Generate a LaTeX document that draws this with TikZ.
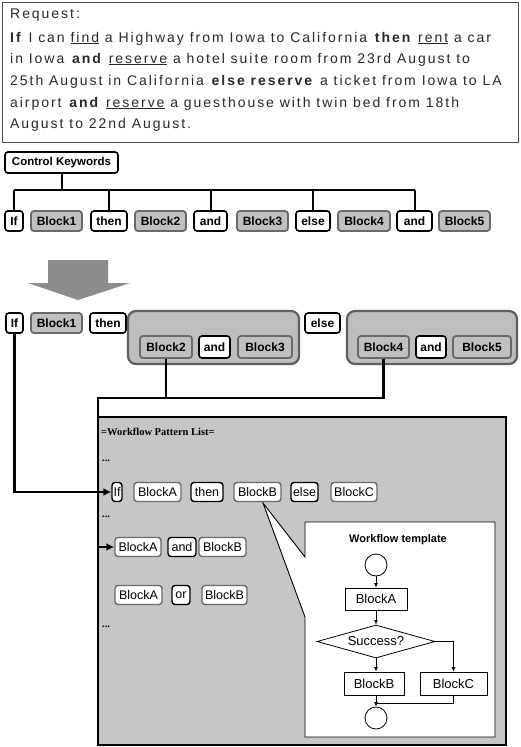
\documentclass[tikz,border=0pt]{standalone}
\usepackage{fontspec}
\setmainfont{Liberation Sans}
\newfontfamily\reqfont[LetterSpace=14]{Liberation Sans}
\newfontfamily\titlefont{Liberation Serif}
\usetikzlibrary{shapes.geometric,arrows.meta}
\definecolor{patbg}{RGB}{198,198,198}
\definecolor{blkfill}{RGB}{192,192,192}
\definecolor{blkedge}{RGB}{105,105,105}
\definecolor{grpfill}{RGB}{190,190,190}
\definecolor{grpedge}{RGB}{95,95,95}
\definecolor{bigarrow}{RGB}{140,140,140}
\definecolor{txt}{RGB}{40,40,40}
\tikzset{
  bw/.style={minimum width=#1pt},
  kw/.style={draw=black,line width=1.6pt,fill=white,rounded corners=3pt,inner sep=0pt,minimum height=20pt,font=\fontsize{12}{13}\selectfont\bfseries},
  blk/.style={draw=blkedge,line width=1.8pt,fill=blkfill,rounded corners=3pt,inner sep=0pt,minimum height=20pt,font=\fontsize{12}{13}\selectfont\bfseries},
  grp/.style={draw=grpedge,line width=2.2pt,fill=grpfill,rounded corners=8pt,inner sep=0pt},
  pkw/.style={draw=black,line width=1.4pt,fill=white,rounded corners=3pt,inner sep=0pt,minimum height=19pt,font=\fontsize{12.5}{13}\selectfont},
  pblk/.style={draw=blkedge,line width=1.4pt,fill=white,rounded corners=3pt,inner sep=0pt,minimum height=19pt,font=\fontsize{12.5}{13}\selectfont},
  conn/.style={line width=2.2pt,black},
  carr/.style={conn,-{Latex[length=8pt,width=8pt]}},
  tree/.style={line width=2pt,black},
  tline/.style={line width=0.8pt,black},
  tarr/.style={tline,-{Latex[length=4.5pt,width=4pt]}},
  tbox/.style={draw=black,line width=0.8pt,fill=white,inner sep=0pt,font=\fontsize{13}{14}\selectfont},
  reqline/.style={anchor=base west,inner sep=0pt,text=txt,font=\reqfont\fontsize{14}{16}\selectfont},
  dots/.style={anchor=west,inner sep=0pt,font=\titlefont\bfseries\fontsize{10.5}{11}\selectfont},
}
\begin{document}
\begin{tikzpicture}[x=1pt,y=-1pt]
\useasboundingbox (0,0) rectangle (520,747);
\fill[white] (0,0) rectangle (520,747);

% request box
\draw[line width=1pt,draw=black!70] (2,2) rectangle (518,142);
\node[reqline] (l0) at (10,18) {Request:};
\node[reqline] (l1) at (10,42) {\textbf{If} I can \underline{find} a Highway from Iowa to California \textbf{then} \underline{rent} a car};
\node[reqline] (l2) at (10,63) {in Iowa \textbf{and} \underline{reserve} a hotel suite room from 23rd August to};
\node[reqline] (l3) at (10,85) {25th August in California \textbf{else reserve} a ticket from Iowa to LA};
\node[reqline] (l4) at (10,107) {airport \textbf{and} \underline{reserve} a guesthouse with twin bed from 18th};
\node[reqline] (l5) at (10,128) {August to 22nd August.};

% control keywords tree
\node[kw,bw=113,minimum height=21pt,font=\fontsize{11.5}{12}\selectfont\bfseries] (ck) at (61.5,162.5) {Control Keywords};
\coordinate (bar) at (0,190);
\node[kw,bw=18] (k1) at (14,221) {If};
\node[blk,bw=51] (b1) at (56.5,221) {Block1};
\node[kw,bw=36] (k2) at (109,221) {then};
\node[blk,bw=51] (b2) at (160.5,221) {Block2};
\node[kw,bw=33] (k3) at (210.5,221) {and};
\node[blk,bw=51] (b3) at (262.5,221) {Block3};
\node[kw,bw=34] (k4) at (313,221) {else};
\node[blk,bw=52] (b4) at (364,221) {Block4};
\node[kw,bw=35] (k5) at (414.5,221) {and};
\node[blk,bw=51] (b5) at (464.5,221) {Block5};
\draw[tree] (ck.south) -- (ck.south |- bar);
\draw[tree] (k1.north |- bar) -- (k5.north |- bar);
\foreach \k in {k1,k2,k3,k4,k5} { \draw[tree] (\k.north |- bar) -- (\k.north); }

% big arrow
\fill[bigarrow] (48,260) -- (108,260) -- (108,283) -- (130,283) -- (78,300) -- (28,283) -- (48,283) -- cycle;

% second row
\node[kw,bw=17] (r2if) at (14.5,323) {If};
\node[blk,bw=51] (r2b1) at (56.5,323) {Block1};
\node[kw,bw=36] (r2then) at (108,323) {then};
\node[grp,minimum width=171pt,minimum height=53pt] (g1) at (213.5,337.5) {};
\node[blk,bw=52,minimum height=22pt] (r2b2) at (166,347) {Block2};
\node[kw,bw=31,minimum height=22pt] (r2and) at (214.5,347) {and};
\node[blk,bw=54,minimum height=22pt] (r2b3) at (265,347) {Block3};
\node[kw,bw=35] (r2else) at (322.5,323) {else};
\node[grp,minimum width=170pt,minimum height=53pt] (g2) at (432,337.5) {};
\node[blk,bw=51,minimum height=22pt] (r2b4) at (383.5,347) {Block4};
\node[kw,bw=30,minimum height=22pt] (r2and2) at (431,347) {and};
\node[blk,bw=58,minimum height=22pt] (r2b5) at (482,347) {Block5};

% pattern list
\draw[line width=2pt,fill=patbg] (98,417) rectangle (506,745);
\node[dots] (ttl) at (101,432) {=Workflow Pattern List=};
\node[dots] (d1) at (102,461) {...};
\node[dots] (d2) at (102,517) {...};
\node[dots] (d3) at (102,627) {...};

% template callout
\coordinate (apex) at (263,503);
\draw[line width=0.9pt,fill=white] (305,522) -- (495,522) -- (495,737) -- (305,737) -- (305,617) -- (apex) -- (305,557) -- cycle;

\node[pkw,bw=10] (pif) at (117,492) {If};
\node[pblk,bw=47] (pA) at (157.5,492) {BlockA};
\node[pkw,bw=32] (pthen) at (207,492) {then};
\node[pblk,bw=47] (pB) at (257.5,492) {BlockB};
\node[pkw,bw=27] (pelse) at (304.5,492) {else};
\node[pblk,bw=46] (pC) at (354,492) {BlockC};

\node[pblk,bw=46] (pA2) at (138,547) {BlockA};
\node[pkw,bw=28] (pand) at (182,547) {and};
\node[pblk,bw=47] (pB2) at (222.5,547) {BlockB};

\node[pblk,bw=47] (pA3) at (138.5,595) {BlockA};
\node[pkw,bw=18] (por) at (181,595) {or};
\node[pblk,bw=45] (pB3) at (224.5,595) {BlockB};

% connectors
\coordinate (hub) at (98,398);
\draw[carr] (r2if.south) -- (r2if.south |- pif) -- (pif.west);
\draw[conn] (r2b2.south) -- (r2b2.south |- hub);
\draw[carr] (r2b4.south) -- (r2b4.south |- hub) -- (hub) -- (hub |- pA2) -- (pA2.west);

% workflow template
\node[anchor=center,inner sep=0pt,font=\fontsize{11}{12}\selectfont\bfseries] (ttitle) at (398,540) {Workflow template};
\node[circle,draw,line width=0.8pt,fill=white,minimum size=22pt,inner sep=0pt] (t0) at (376,565) {};
\node[tbox,minimum width=62pt,minimum height=22pt] (tA) at (376,599) {BlockA};
\node[diamond,draw,line width=0.8pt,fill=white,aspect=3.6,minimum width=118pt,minimum height=33pt,inner sep=0pt,font=\fontsize{13}{14}\selectfont] (td) at (376,641.5) {Success?};
\node[tbox,minimum width=60pt,minimum height=23pt] (tB) at (374,683.5) {BlockB};
\node[tbox,minimum width=67pt,minimum height=23pt] (tC) at (453.5,683.5) {BlockC};
\node[circle,draw,line width=0.8pt,fill=white,minimum size=22pt,inner sep=0pt] (t1) at (376,718) {};
\coordinate (merge) at (376,703);
\draw[tarr] (t0.south) -- (tA.north);
\draw[tarr] (tA.south) -- (td.north);
\draw[tarr] (td.south) -- (td.south |- tB.north);
\draw[tarr] (td.east) -- (tC.north |- td.east) -- (tC.north);
\draw[tarr] (t1.north |- tB.south) -- (t1.north);
\draw[tline] (tC.south) -- (tC.south |- merge) -- (merge);
\end{tikzpicture}
\end{document}
